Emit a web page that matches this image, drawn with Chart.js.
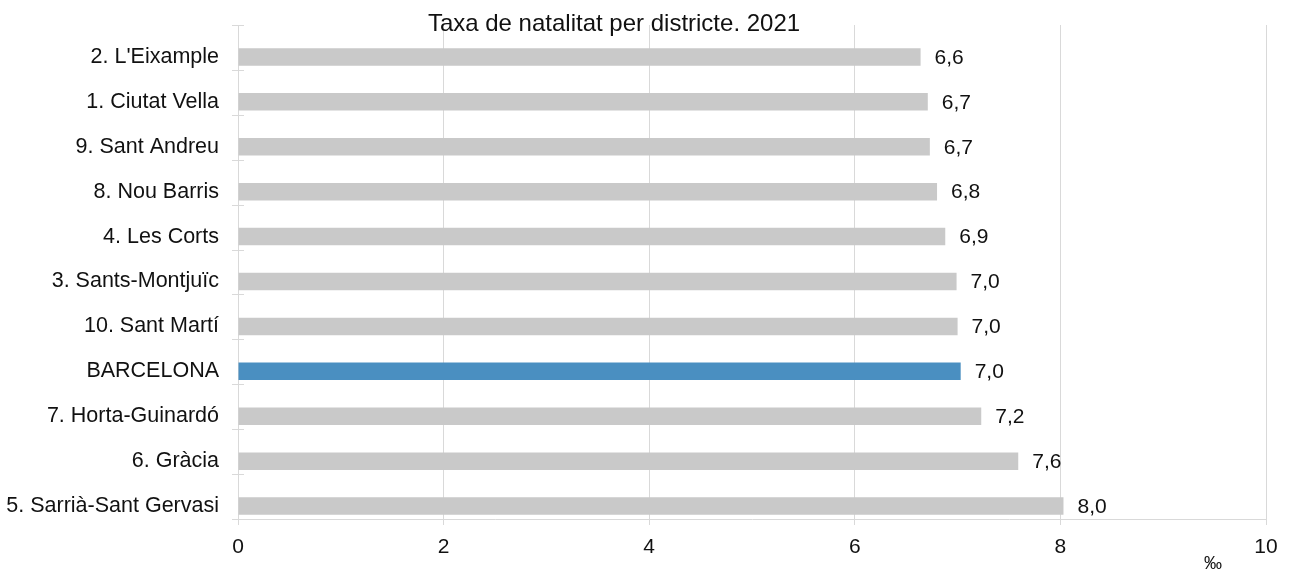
<!DOCTYPE html>
<html>
<head>
<meta charset="utf-8">
<script src="https://cdn.jsdelivr.net/npm/chart.js@4/dist/chart.umd.min.js"></script>
<style>
  html, body { margin: 0; padding: 0; background: #fff; }
  #wrap { width: 1290px; height: 573px; position: relative; }
</style>
</head>
<body>
<div id="wrap"><canvas id="c"></canvas></div>
<script>
const FONT = '"Liberation Sans", Arial, sans-serif';
const title = 'Taxa de natalitat per districte. 2021';
const unit = '‰';
const districts = [
  "2. L'Eixample", '1. Ciutat Vella', '9. Sant Andreu', '8. Nou Barris', '4. Les Corts',
  '3. Sants-Montjuïc', '10. Sant Martí', 'BARCELONA', '7. Horta-Guinardó', '6. Gràcia',
  '5. Sarrià-Sant Gervasi'
];
const rates = [6.64, 6.71, 6.73, 6.80, 6.88, 6.99, 7.00, 7.03, 7.23, 7.59, 8.03];
const xTicks = [0, 2, 4, 6, 8, 10];

const GREY = '#c9c9c9', BLUE = '#4a8fc1', GRID = '#d9d9d9';
const barColors = districts.map(d => d === 'BARCELONA' ? BLUE : GREY);

function fmtComma(v) { return v.toFixed(1).replace('.', ','); }

// categories sit a bit lower than the tick marks in the original
const shiftY = {
  id: 'shiftY',
  afterLayout(chart) {
    const s = chart.scales.y;
    s.top += 9.5; s.bottom += 9.5;
    s.configure();
  }
};

const decor = {
  id: 'decor',
  beforeDatasetsDraw(chart) {
    const {ctx, chartArea: a} = chart;
    const step = (a.bottom - a.top) / districts.length;
    ctx.save();
    ctx.strokeStyle = GRID; ctx.lineWidth = 1;
    for (let k = 0; k <= districts.length; k++) {
      const y = Math.round(a.top + k * step) + 0.5;
      ctx.beginPath(); ctx.moveTo(a.left - 6, y); ctx.lineTo(a.left + 6, y); ctx.stroke();
    }
    ctx.restore();
  },
  afterDatasetsDraw(chart) {
    const {ctx} = chart;
    const meta = chart.getDatasetMeta(0);
    ctx.save();
    ctx.font = '21px ' + FONT;
    ctx.fillStyle = '#111';
    ctx.textAlign = 'left'; ctx.textBaseline = 'middle';
    meta.data.forEach((bar, i) => ctx.fillText(fmtComma(rates[i]), bar.x + 14, bar.y + 1));
    ctx.font = '24px ' + FONT;
    ctx.textAlign = 'center'; ctx.textBaseline = 'alphabetic';
    ctx.fillText(title, 614, 31);
    ctx.font = '18px ' + FONT;
    ctx.textBaseline = 'middle';
    ctx.fillText(unit, 1213, 564);
    ctx.restore();
  }
};

new Chart(document.getElementById('c'), {
  type: 'bar',
  data: {
    labels: districts,
    datasets: [{ data: rates, backgroundColor: barColors, borderWidth: 0,
      barPercentage: 0.39, categoryPercentage: 1 }]
  },
  options: {
    indexAxis: 'y',
    responsive: true, maintainAspectRatio: false, animation: false,
    layout: { padding: { top: 25, right: 24, left: 0, bottom: 0 } },
    plugins: { legend: { display: false }, tooltip: { enabled: false } },
    scales: {
      x: {
        min: 0, max: 10,
        afterBuildTicks: s => { s.ticks = xTicks.map(v => ({ value: v })); },
        afterFit: s => { s.height = 54; s.paddingLeft = 0; s.paddingRight = 0; },
        ticks: { color: '#111', font: { family: FONT, size: 21 }, padding: 10, maxRotation: 0 },
        grid: { color: GRID, tickLength: 6 },
        border: { color: GRID }
      },
      y: {
        afterFit: s => { s.width = 238; s.paddingTop = 0; s.paddingBottom = 0; },
        ticks: { color: '#111', font: { family: FONT, size: 21.5 }, padding: 19 },
        grid: { display: false, drawTicks: false },
        border: { display: false }
      }
    }
  },
  plugins: [shiftY, decor]
});
</script>
</body>
</html>
